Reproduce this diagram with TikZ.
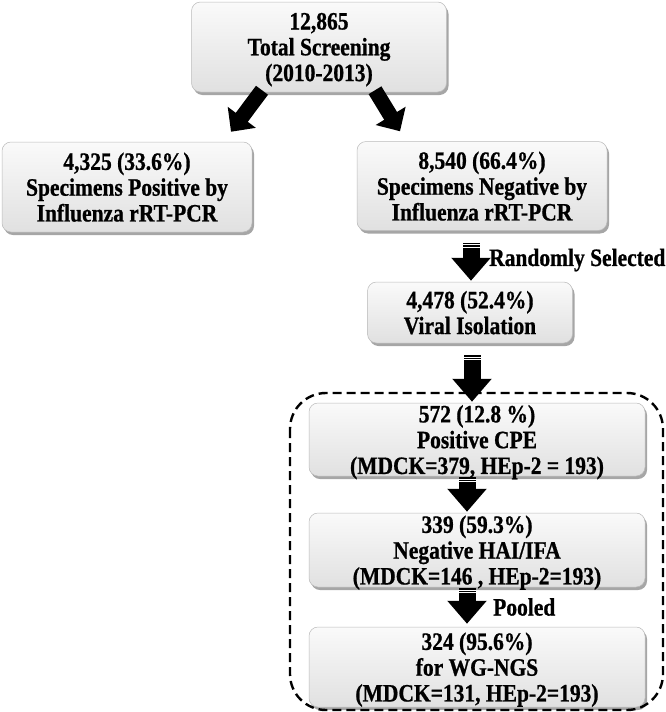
\documentclass[tikz,border=0pt]{standalone}
\usepackage{fontspec}
\setmainfont{Liberation Serif}[FakeStretch=0.86, BoldFeatures={FakeBold=0.8}]
\usetikzlibrary{arrows.meta,shadows,calc}
\tikzset{
  flowbox/.style={rectangle, rounded corners=9pt, draw=gray!55, line width=0.5pt,
    top color=gray!4, bottom color=gray!24,
    drop shadow={shadow xshift=2pt, shadow yshift=-3pt, fill=black, opacity=0.35},
    inner sep=0pt, align=center, text depth=0pt,
    font=\fontsize{25}{25.8}\selectfont\bfseries},
  vblock/.style={line width=17pt, -{Triangle[length=23pt,width=38pt]}, black},
  dblock/.style={line width=15pt, -{Triangle[length=18pt,width=34pt]}, black},
  stripe/.style={white, line width=0.9pt},
  lbl/.style={font=\fontsize{25}{26.5}\selectfont\bfseries, inner sep=0pt, anchor=west},
  dashbox/.style={draw=black, line width=2.4pt, dash pattern=on 9pt off 5pt, rounded corners=36pt}
}
\newcommand{\stripedarrow}[2]{%
  \draw[vblock] (#1) -- (#2);
  \draw[stripe] ($(#1)+(-9,1.9)$) -- ++(18,0);
  \draw[stripe] ($(#1)+(-9,4.3)$) -- ++(18,0);
}
\begin{document}
\begin{tikzpicture}[x=1pt,y=-1pt]
\useasboundingbox (0,0) rectangle (666,712);

% dashed group
\draw[dashbox] (290,393) rectangle (663,710);

% boxes
\node[flowbox, minimum width=255pt, minimum height=90pt] (top) at (319,47)
  {12,865\\Total Screening\\(2010-2013)};
\node[flowbox, minimum width=250pt, minimum height=90pt] (pos) at (127,187)
  {4,325 (33.6\%)\\Specimens Positive by\\Influenza rRT-PCR};
\node[flowbox, minimum width=250pt, minimum height=89pt] (neg) at (482,186)
  {8,540 (66.4\%)\\Specimens Negative by\\Influenza rRT-PCR};
\node[flowbox, minimum width=205pt, minimum height=61pt] (viral) at (470,312.5)
  {4,478 (52.4\%)\\Viral Isolation};
\node[flowbox, minimum width=336pt, minimum height=73pt] (cpe) at (477,439.5)
  {572 (12.8 \%)\\Positive CPE\\(MDCK=379, HEp-2 = 193)};
\node[flowbox, minimum width=336pt, minimum height=74pt] (hai) at (477,550)
  {339 (59.3\%)\\Negative HAI/IFA\\(MDCK=146 , HEp-2=193)};
\node[flowbox, minimum width=336pt, minimum height=80pt] (wg) at (477,667)
  {324 (95.6\%)\\for WG-NGS\\(MDCK=131, HEp-2=193)};

% diagonal arrows
\coordinate (d1s) at ([xshift=-57pt,yshift=2pt]top.south);
\coordinate (d1e) at ([xshift=104pt,yshift=10pt]pos.north);
\coordinate (d2s) at ([xshift=56pt,yshift=2pt]top.south);
\coordinate (d2e) at ([xshift=-82pt,yshift=10pt]neg.north);
\draw[dblock] (d1s) -- (d1e);
\draw[dblock] (d2s) -- (d2e);

% vertical striped arrows
\coordinate (v1s) at ([xshift=-11pt,yshift=-12pt]neg.south);
\coordinate (v1e) at ([yshift=1pt]v1s |- viral.north);
\stripedarrow{v1s}{v1e}
\coordinate (v2s) at ([xshift=2pt,yshift=-12pt]viral.south);
\coordinate (v2e) at ([yshift=1pt]v2s |- cpe.north);
\stripedarrow{v2s}{v2e}
\coordinate (v3s) at ([xshift=-10pt,yshift=-1pt]cpe.south);
\coordinate (v3e) at ([yshift=1pt]v3s |- hai.north);
\stripedarrow{v3s}{v3e}
\coordinate (v4s) at ([xshift=-10pt,yshift=-1pt]hai.south);
\coordinate (v4e) at ([yshift=3pt]v4s |- wg.north);
\stripedarrow{v4s}{v4e}

% labels
\node[lbl] (rs) at (489,260) {Randomly Selected};
\node[lbl] (pl) at (493,607) {Pooled};
\end{tikzpicture}
\end{document}
